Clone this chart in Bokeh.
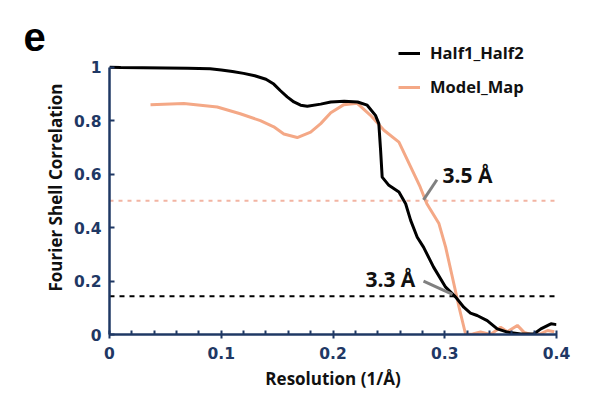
from bokeh.plotting import figure
from bokeh.models import Range1d, FixedTicker, Legend, LegendItem, ColumnDataSource
from bokeh.embed import file_html
from bokeh.resources import INLINE

# ---- data ----
half_x = [0, 0.01, 0.03, 0.05, 0.07, 0.08, 0.09, 0.1, 0.11, 0.12, 0.13, 0.14, 0.147, 0.153,
          0.159, 0.165, 0.171, 0.177,
          0.189, 0.198, 0.21, 0.222, 0.2306, 0.238, 0.241, 0.2426, 0.244, 0.25, 0.259, 0.265,
          0.2695, 0.2754, 0.281, 0.290, 0.3008, 0.3098, 0.317, 0.323, 0.329, 0.338, 0.347,
          0.356, 0.368, 0.38, 0.386, 0.395, 0.4]
half_y = [1.0, 0.999, 0.998, 0.997, 0.996, 0.995, 0.994, 0.990, 0.984, 0.977, 0.968, 0.955, 0.937, 0.912,
          0.889, 0.870, 0.858, 0.854,
          0.862, 0.870, 0.873, 0.870, 0.858, 0.820, 0.789, 0.689, 0.589, 0.558, 0.533, 0.489,
          0.427, 0.364, 0.327, 0.252, 0.177, 0.140, 0.102, 0.080, 0.071, 0.052, 0.021,
          0.009, 0.002, 0.003, 0.021, 0.040, 0.037]

model_x = [0.0367, 0.0665, 0.0964, 0.117, 0.135, 0.147, 0.156, 0.168, 0.18, 0.189, 0.198,
           0.2097, 0.2217, 0.2336, 0.2456, 0.259, 0.2695, 0.278, 0.284, 0.2948, 0.3008, 0.3068,
           0.3128, 0.3187, 0.325, 0.332, 0.341, 0.35, 0.356, 0.365, 0.371, 0.377, 0.386, 0.392, 0.398]
model_y = [0.860, 0.864, 0.851, 0.826, 0.80, 0.777, 0.750, 0.737, 0.757, 0.789, 0.830,
           0.860, 0.865, 0.82, 0.764, 0.72, 0.627, 0.552, 0.489, 0.415, 0.327, 0.215,
           0.102, 0.0, 0.002, 0.01, 0.0, 0.027, 0.01, 0.034, 0.008, 0.0, 0.003, 0.015, 0.01]

thresholds = [0.5, 0.143]          # Model_Map 0.5 cutoff, half-map 0.143 cutoff
threshold_x = [0, 0.4]

ann_text = ["3.5 Å", "3.3 Å"]
ann_text_x = [0.298, 0.229]
ann_text_y = [0.595, 0.209]
ann_line_x0 = [0.293, 0.281]
ann_line_y0 = [0.579, 0.200]
ann_line_x1 = [0.281, 0.307]
ann_line_y1 = [0.504, 0.150]

x_ticks = [0, 0.1, 0.2, 0.3, 0.4]
x_tick_labels = ["0", "0.1", "0.2", "0.3", "0.4"]
x_minor_ticks = [0.02, 0.04, 0.06, 0.08, 0.12, 0.14, 0.16, 0.18, 0.22, 0.24, 0.26, 0.28,
                 0.32, 0.34, 0.36, 0.38]
y_ticks = [0, 0.2, 0.4, 0.6, 0.8, 1.0]
y_tick_labels = ["0", "0.2", "0.4", "0.6", "0.8", "1"]

NAVY = "#1F3864"
ORANGE = "#F4A886"
PINK = "#F2B4A2"
FONT = "Open Sans"
TICK_FONT = "DejaVu Sans"

p = figure(width=602, height=396, x_range=Range1d(0, 0.4), y_range=Range1d(0, 1.1),
           output_backend="svg", toolbar_location=None,
           min_border_left=109, min_border_right=46, min_border_top=40, min_border_bottom=62)
p.grid.visible = False
p.outline_line_color = None

# panel letter
p.title.text = "e"
p.title.text_font = "Liberation Sans"
p.title.text_font_size = "40px"
p.title.text_font_style = "bold"
p.title.text_color = "black"
p.title.align = "left"
p.title.vertical_align = "bottom"
p.title.offset = -86
p.title.standoff = -21

# threshold lines
p.line(threshold_x, [thresholds[0]] * 2, line_color=PINK, line_width=2, line_dash="4 5")
p.line(threshold_x, [thresholds[1]] * 2, line_color="black", line_width=2, line_dash="5 5")

r_model = p.line(model_x, model_y, line_color=ORANGE, line_width=3)
r_half = p.line(half_x, half_y, line_color="black", line_width=3)

# leader lines
p.segment(x0=ann_line_x0, y0=ann_line_y0, x1=ann_line_x1, y1=ann_line_y1,
          line_color="#808080", line_width=3)
src = ColumnDataSource(dict(x=ann_text_x, y=ann_text_y, t=ann_text))
p.text(x="x", y="y", text="t", source=src, text_font_size="21px", text_font_style="bold",
       text_baseline="alphabetic", text_align="left", text_color="#111111",
       text_font=dict(value=FONT))

# axes
for ax in (p.xaxis[0], p.yaxis[0]):
    ax.axis_line_color = NAVY
    ax.axis_line_width = 2.5
    ax.major_tick_line_color = NAVY
    ax.major_tick_line_width = 2
    ax.minor_tick_line_color = NAVY
    ax.minor_tick_line_width = 2
    ax.major_label_text_color = NAVY
    ax.major_label_text_font = TICK_FONT
    ax.major_label_text_font_style = "bold"
    ax.major_label_text_font_size = "15.5px"
    ax.axis_label_text_font = FONT
    ax.axis_label_text_font_style = "bold"
    ax.axis_label_text_font_size = "17px"
    ax.axis_label_text_color = "#111111"

p.xaxis.ticker = FixedTicker(ticks=x_ticks, minor_ticks=x_minor_ticks)
p.xaxis.major_label_overrides = dict(zip(x_ticks, x_tick_labels))
p.xaxis.bounds = (0, 0.4)
p.xaxis.major_tick_in = 4
p.xaxis.major_tick_out = 4
p.xaxis.minor_tick_in = 4
p.xaxis.minor_tick_out = 0
p.xaxis.major_label_standoff = 8
p.xaxis.axis_label = "Resolution (1/Å)"
p.xaxis.axis_label_standoff = 5

p.yaxis.ticker = FixedTicker(ticks=y_ticks)
p.yaxis.major_label_overrides = dict(zip(y_ticks, y_tick_labels))
p.yaxis.bounds = (0, 1)
p.yaxis.major_tick_in = 5
p.yaxis.major_tick_out = 0
p.yaxis.minor_tick_in = 0
p.yaxis.minor_tick_out = 0
p.yaxis.major_label_standoff = 8
p.yaxis.axis_label = "Fourier Shell Correlation"
p.yaxis.axis_label_standoff = 4

legend = Legend(items=[LegendItem(label="Half1_Half2", renderers=[r_half]),
                       LegendItem(label="Model_Map", renderers=[r_model])],
                location=(289, 236))
legend.background_fill_alpha = 0
legend.border_line_alpha = 0
legend.padding = 0
legend.margin = 0
legend.spacing = 11
legend.glyph_width = 22
legend.glyph_height = 20
legend.label_height = 20
legend.label_standoff = 10
legend.label_text_font = FONT
legend.label_text_font_style = "bold"
legend.label_text_font_size = "16.5px"
legend.label_text_color = "#111111"
p.add_layout(legend)

open("out.html", "w").write(file_html(p, INLINE))
